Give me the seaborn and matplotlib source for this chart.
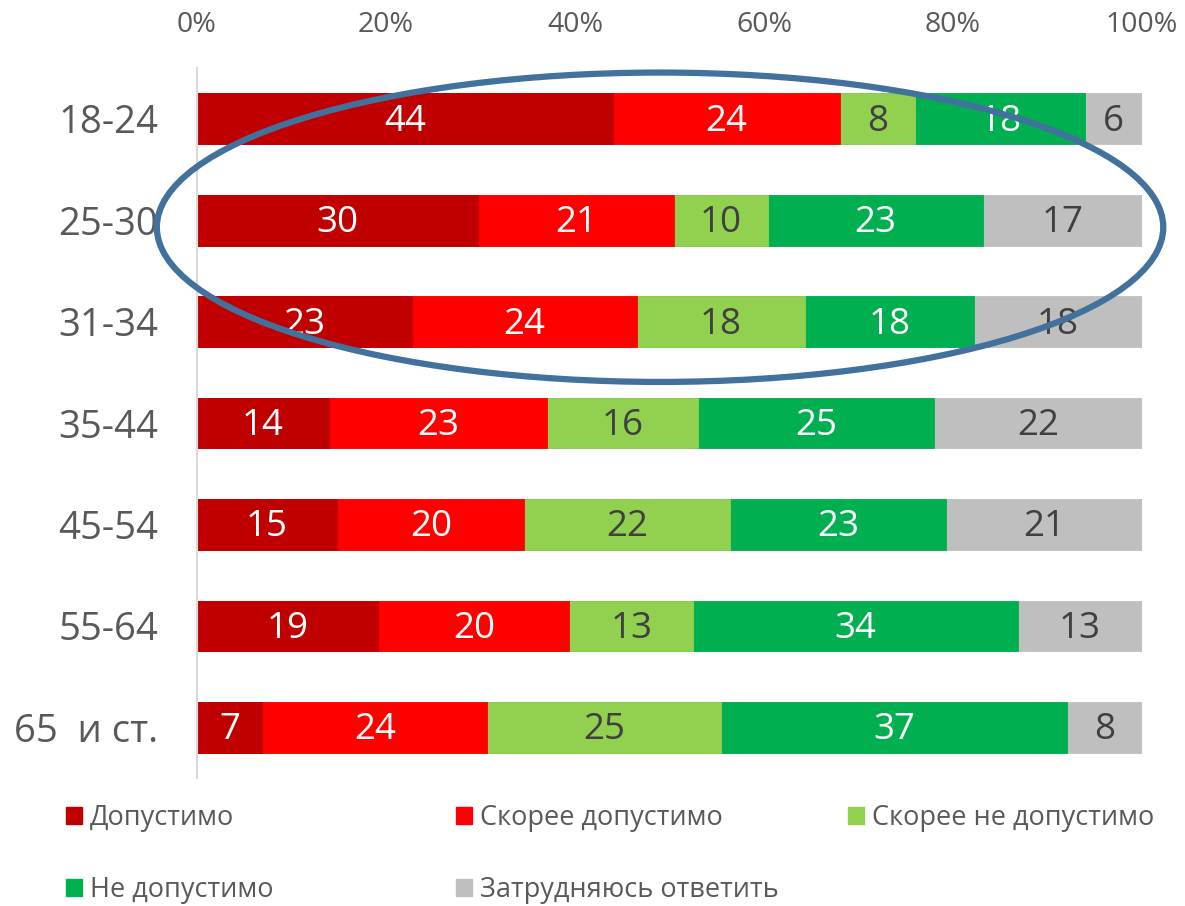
import numpy as np
import pandas as pd
import matplotlib
matplotlib.use("Agg")
import matplotlib.pyplot as plt
import seaborn as sns
from matplotlib.patches import Ellipse, Patch

categories = ["18-24", "25-30", "31-34", "35-44", "45-54", "55-64", "65  и ст."]
series_names = ["Допустимо", "Скорее допустимо", "Скорее не допустимо",
                "Не допустимо", "Затрудняюсь ответить"]
dopustimo = [44, 30, 23, 14, 15, 19, 7]
skoree_dop = [24, 21, 24, 23, 20, 20, 24]
skoree_ne = [8, 10, 18, 16, 22, 13, 25]
ne_dop = [18, 23, 18, 25, 23, 34, 37]
zatrud = [6, 17, 18, 22, 21, 13, 8]
tick_labels = ["0%", "20%", "40%", "60%", "80%", "100%"]

colors = ["#C00000", "#FF0000", "#92D050", "#00B050", "#BFBFBF"]
text_colors = ["white", "white", "#404040", "white", "#404040"]

sns.set_theme(style="white")
plt.rcParams["font.family"] = ["Open Sans", "DejaVu Sans"]

vals = np.array([dopustimo, skoree_dop, skoree_ne, ne_dop, zatrud], dtype=float)
totals = vals.sum(axis=0)
pct = vals / totals * 100
cum = np.cumsum(pct, axis=0)

fig = plt.figure(figsize=(11.85, 9.06), dpi=100)
ax = fig.add_axes([197 / 1185, 1 - 778 / 906, (1142 - 197) / 1185, (778 - 68) / 906])

# overlay cumulative bars from widest to narrowest
for i in range(len(series_names) - 1, -1, -1):
    df = pd.DataFrame({"cat": categories, "val": cum[i]})
    sns.barplot(data=df, x="val", y="cat", orient="h", color=colors[i],
                width=0.5, ax=ax, saturation=1, linewidth=0.6,
                edgecolor=colors[i])

for i in range(len(series_names)):
    for j in range(len(categories)):
        start = cum[i, j] - pct[i, j]
        ax.text(start + pct[i, j] / 2, j + 0.03, f"{int(vals[i, j])}", ha="center",
                va="center", color=text_colors[i], fontsize=26.5)

ax.set_xlim(0, 100)
ax.set_ylim(6.5, -0.5)
ax.xaxis.tick_top()
ax.set_xticks([0, 20, 40, 60, 80, 100])
ax.set_xticklabels(tick_labels)
ax.tick_params(axis="x", length=0, pad=21, labelsize=20.5, labelcolor="#595959")
ax.tick_params(axis="y", length=0, pad=28, labelsize=27.5, labelcolor="#595959")
ax.set_xlabel("")
ax.set_ylabel("")
for s in ["top", "right", "bottom"]:
    ax.spines[s].set_visible(False)
ax.spines["left"].set_color("#D9D9D9")
ax.spines["left"].set_linewidth(1.5)

ell = Ellipse((49.0, 1.07), 106.5, 3.05, fill=False, edgecolor="#41719C",
              linewidth=4.5, clip_on=False, zorder=10)
ax.add_patch(ell)

# legend entries (row-wise, 3 columns)
legend_pos = [(66, 818), (456, 818), (848, 818), (66, 890), (456, 890)]
for i, name in enumerate(series_names):
    x, y = legend_pos[i]
    leg = fig.legend(handles=[Patch(facecolor=colors[i], edgecolor=colors[i])],
                     labels=[name], loc="center left",
                     bbox_to_anchor=(x / 1185, 1 - y / 906), frameon=False,
                     fontsize=19.5, handlelength=0.58, handleheight=0.58,
                     handletextpad=0.3, borderpad=0, borderaxespad=0)
    for t in leg.get_texts():
        t.set_color("#595959")

fig.savefig("out.png", dpi=100)
